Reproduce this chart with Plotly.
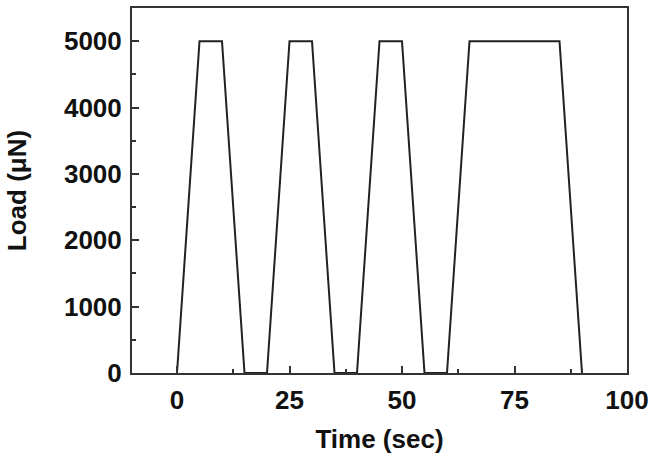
import plotly.graph_objects as go

time_sec = [0, 5, 10, 15, 20, 25, 30, 35, 40, 45, 50, 55, 60, 65, 85, 90]
load_uN = [0, 5000, 5000, 0, 0, 5000, 5000, 0, 0, 5000, 5000, 0, 0, 5000, 5000, 0]

x_ticks = [0, 25, 50, 75, 100]
y_ticks = [0, 1000, 2000, 3000, 4000, 5000]

fig = go.Figure()
fig.add_trace(go.Scatter(x=time_sec, y=load_uN, mode="lines",
                         line=dict(color="#222222", width=2), showlegend=False))

font_fam = "Liberation Sans, Arial, sans-serif"
axis_common = dict(
    showline=True, linecolor="#333333", linewidth=2, mirror=True,
    ticks="inside", ticklen=7, tickwidth=2, tickcolor="#333333",
    showgrid=False, zeroline=False, ticklabelstandoff=3,
    tickfont=dict(family=font_fam, size=26, color="#111111", weight="bold"),
)

fig.update_xaxes(range=[-10, 100], tickvals=x_ticks,
                 minor=dict(ticks="inside", ticklen=4, tickwidth=2, tickcolor="#333333", dtick=12.5, tick0=0),
                 title=dict(text="Time (sec)", font=dict(family=font_fam, size=26, color="#111111", weight="bold"), standoff=16),
                 **axis_common)
fig.update_yaxes(range=[0, 5500], tickvals=y_ticks,
                 minor=dict(ticks="inside", ticklen=4, tickwidth=2, tickcolor="#333333", dtick=500, tick0=0),
                 title=dict(text="Load (μN)", font=dict(family=font_fam, size=26, color="#111111", weight="bold"), standoff=30),
                 **axis_common)

fig.update_layout(width=657, height=455, margin=dict(l=132, r=30, t=6, b=82),
                  plot_bgcolor="white", paper_bgcolor="white")
fig.write_html("out.html")
